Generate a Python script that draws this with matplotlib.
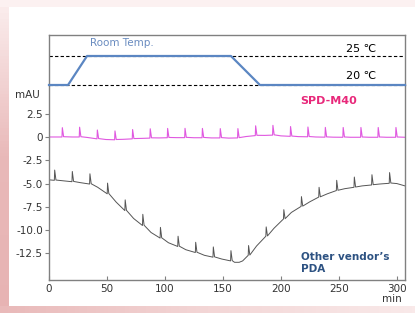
import numpy as np
import matplotlib
matplotlib.use('Agg')
import matplotlib.pyplot as plt
from matplotlib.patches import Rectangle

# column temperature program
temp_t = [0, 16.4, 32.8, 156.9, 181.9, 307]
temp_c = [20, 20, 25, 25, 20, 20]

# SPD-M40 trace: baseline reads (min, mAU) and spike heights at those points (0 = none)
spd_t = [0, 11.2, 20, 26.1, 33, 41.4, 49, 56.6, 64, 71.8, 80, 87, 95, 102, 110, 117,
         125, 132, 140, 147.4, 155, 162.6, 170, 177.9, 186, 192.8, 200, 208, 215, 223,
         230, 238, 245, 253.4, 260, 268.7, 276, 283.6, 291, 298.9, 307]
spd_v = [0, 0, 0, 0, -0.05, -0.2, -0.27, -0.3, -0.25, -0.2, -0.15, -0.12, -0.1, -0.08,
         -0.07, -0.07, -0.08, -0.08, -0.1, -0.1, -0.12, -0.1, 0.05, 0.15, 0.17, 0.2,
         0.12, 0.07, 0.04, 0.02, 0.0, -0.02, -0.02, -0.03, -0.03, -0.03, -0.03, -0.03,
         -0.03, -0.03, -0.03]
spd_h = [0, 1.0, 0, 1.05, 0, 0.95, 0, 0.95, 0, 1.0, 0, 1.0, 0, 1.0, 0, 1.0,
         0, 1.0, 0, 1.0, 0, 1.0, 0, 1.05, 0, 1.05, 0, 1.05, 0, 1.05,
         0, 1.05, 0, 1.05, 0, 1.05, 0, 1.05, 0, 1.05, 0]

# other vendor's PDA trace
pda_t = [0, 4.6, 12, 19.8, 27, 35, 42, 50.2, 58, 65.4, 73, 80.6, 88, 95.8, 103, 111,
         118, 126.2, 134, 141.4, 149, 156.6, 160, 164, 167, 171.8, 179, 187, 194, 202.2,
         209, 217.4, 225, 232.6, 240, 247.8, 255, 263, 270, 278.2, 285, 293.4, 300, 307]
pda_v = [-4.6, -4.65, -4.7, -4.8, -4.9, -5.05, -5.4, -6.1, -7.0, -7.9, -8.75, -9.5,
         -10.25, -10.85, -11.35, -11.75, -12.1, -12.4, -12.7, -12.9, -13.1, -13.3,
         -13.45, -13.45, -13.3, -12.7, -11.7, -10.65, -9.8, -8.8, -8.1, -7.45, -6.95,
         -6.45, -6.1, -5.75, -5.55, -5.4, -5.25, -5.15, -5.05, -4.97, -5.0, -5.25]
pda_h = [0, 1.1, 0, 1.1, 0, 1.1, 0, 1.15, 0, 1.15, 0, 1.2, 0, 1.15, 0, 1.1,
         0, 1.1, 0, 1.1, 0, 1.1, 0, 0, 0, 1.05, 0, 1.0, 0, 1.0,
         0, 1.05, 0, 1.05, 0, 1.1, 0, 1.1, 0, 1.1, 0, 1.15, 0, 0]

x_ticks = [0, 50, 100, 150, 200, 250, 300]
y_ticks = [2.5, 0, -2.5, -5.0, -7.5, -10.0, -12.5]


def trace(ts, vs, hs):
    xs, ys = [], []
    for t, v, h in zip(ts, vs, hs):
        xs.append(t)
        ys.append(v)
        if h > 0:
            xs += [t + 0.3, t + 1.4]
            ys += [v + h, v + 0.03]
    return xs, ys


W, H = 415, 313
fig = plt.figure(figsize=(W / 100, H / 100), dpi=100)
fig.patch.set_facecolor('white')
plt.rcParams['font.family'] = 'DejaVu Sans'

# pink frame
bg = fig.add_axes([0, 0, 1, 1], zorder=-10)
bg.axis('off')
bg.add_patch(Rectangle((0, 0), W, 7, color='#fcf1f1', lw=0))
grad = np.linspace(0, 1, 100).reshape(-1, 1)
bg.imshow(grad, extent=(0, 8, H, 0), aspect='auto',
          cmap=matplotlib.colors.LinearSegmentedColormap.from_list('p', ['#fbeeee', '#e9b9b9', '#e7b3b3']))
grad2 = np.linspace(0, 1, 100).reshape(1, -1)
bg.imshow(grad2, extent=(0, W, H, 306), aspect='auto',
          cmap=matplotlib.colors.LinearSegmentedColormap.from_list('q', ['#e9b9b9', '#f3d6d6', '#f9e9e9']))
bg.set_xlim(0, W)
bg.set_ylim(H, 0)

left = 49 / W
width = (405 - 49) / W
ax = fig.add_axes([left, 1 - 280 / H, width, (280 - 85) / H])
axt = fig.add_axes([left, 1 - 85 / H, width, (85 - 35) / H])

spine_c = '#808080'
txt_c = '#333333'

# temperature panel
axt.axhline(25, color='black', lw=0.8, ls=(0, (3, 2)))
axt.axhline(20, color='black', lw=0.8, ls=(0, (3, 2)), clip_on=False)
axt.plot(temp_t, temp_c, color='#5b86c2', lw=1.6, clip_on=False, zorder=5)
axt.set_xlim(0, 307)
axt.set_ylim(20, 28.62)
axt.set_xticks([])
axt.set_yticks([])
axt.spines['bottom'].set_visible(False)
for s in ['top', 'left', 'right']:
    axt.spines[s].set_color(spine_c)
    axt.spines[s].set_linewidth(1.0)
axt.text(35.3, 27.2, 'Room Temp.', color='#6a8cc0', fontsize=7.5, va='center')
axt.text(282, 26.2, '25 ℃', color='black', fontsize=8, va='center', ha='right')
axt.text(282, 21.6, '20 ℃', color='black', fontsize=8, va='center', ha='right')

# chromatograms
sx, sy = trace(spd_t, spd_v, spd_h)
ax.plot(sx, sy, color='#e058e0', lw=0.8)
px, py = trace(pda_t, pda_v, pda_h)
ax.plot(px, py, color='#555555', lw=0.7)

ax.set_xlim(0, 307)
ax.set_ylim(-15.35, 5.58)
ax.set_xticks(x_ticks)
ax.set_yticks(y_ticks)
ax.set_yticklabels(['2.5', '0', '-2.5', '-5.0', '-7.5', '-10.0', '-12.5'])
ax.spines['top'].set_visible(False)
for s in ['bottom', 'left', 'right']:
    ax.spines[s].set_color(spine_c)
    ax.spines[s].set_linewidth(1.0)
ax.tick_params(axis='x', direction='in', length=3, color=spine_c, labelsize=7.5,
               labelcolor=txt_c, pad=3)
ax.tick_params(axis='y', direction='out', length=3, color=spine_c, labelsize=7.5,
               labelcolor=txt_c, pad=1.5)

ax.text(241, 3.86, 'SPD-M40', color='#e8287a', fontsize=8, fontweight='bold',
        ha='center', va='center')
ax.text(217, -12.3, 'Other vendor\u2019s\nPDA', color='#2d5282', fontsize=7.5,
        fontweight='bold', ha='left', va='top', linespacing=1.3)

fig.text(27 / W, 1 - 95 / H, 'mAU', color=txt_c, fontsize=7.5, ha='center', va='center')
fig.text(392 / W, 1 - 299 / H, 'min', color=txt_c, fontsize=7.5, ha='center', va='center')

fig.savefig('out.png', dpi=100)
